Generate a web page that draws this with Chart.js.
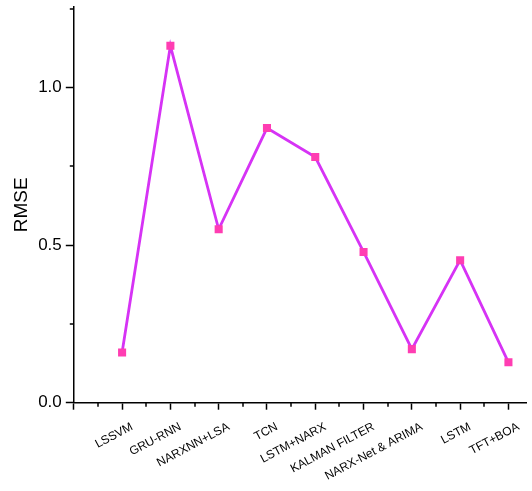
<!DOCTYPE html>
<html>
<head>
<meta charset="utf-8">
<script src="https://cdn.jsdelivr.net/npm/chart.js@4/dist/chart.umd.min.js"></script>
<style>
  html, body { margin: 0; padding: 0; background: #ffffff; }
  #wrap { width: 532px; height: 491px; position: relative; }
</style>
</head>
<body>
<div id="wrap"><canvas id="c"></canvas></div>
<script>
// Models compared and their RMSE
const models = ['LSSVM', 'GRU-RNN', 'NARXNN+LSA', 'TCN', 'LSTM+NARX', 'KALMAN FILTER', 'NARX-Net & ARIMA', 'LSTM', 'TFT+BOA'];
const rmse = [0.159, 1.132, 0.550, 0.871, 0.779, 0.478, 0.170, 0.452, 0.128];

// Axis ticks
const yMajorTicks = [0, 0.5, 1.0];
const yMinorTicks = [0.25, 0.75, 1.25];
const xMajorTicks = [0, 1, 2, 3, 4, 5, 6, 7, 8, 9];
const xMinorTicks = [0.5, 1.5, 2.5, 3.5, 4.5, 5.5, 6.5, 7.5, 8.5];

const FONT = '"Liberation Sans", Arial, sans-serif';

// short minor ticks on both axes
const minorTicks = {
  id: 'minorTicks',
  afterDraw(chart) {
    const { ctx, chartArea, scales } = chart;
    ctx.save();
    ctx.strokeStyle = '#000';
    ctx.lineWidth = 1.5;
    ctx.beginPath();
    yMinorTicks.forEach(v => {
      const py = Math.round(scales.y.getPixelForValue(v));
      ctx.moveTo(chartArea.left - 4, py);
      ctx.lineTo(chartArea.left, py);
    });
    xMinorTicks.forEach(v => {
      const px = Math.round(scales.x.getPixelForValue(v));
      ctx.moveTo(px, chartArea.bottom);
      ctx.lineTo(px, chartArea.bottom + 4);
    });
    ctx.stroke();
    ctx.restore();
  }
};

new Chart(document.getElementById('c'), {
  type: 'line',
  data: {
    datasets: [{
      label: 'RMSE',
      data: rmse.map((v, i) => ({ x: i + 1, y: v })),
      borderColor: '#d633f5',
      borderWidth: 2.8,
      pointStyle: 'rect',
      pointRadius: 5.7,
      pointBorderWidth: 0,
      pointBackgroundColor: '#ff3db2',
      pointBorderColor: '#ff3db2',
      tension: 0
    }]
  },
  options: {
    responsive: true,
    maintainAspectRatio: false,
    animation: false,
    layout: { padding: { top: 7, right: 0, bottom: 0, left: 0 } },
    plugins: {
      legend: { display: false },
      tooltip: { enabled: false }
    },
    scales: {
      x: {
        type: 'linear',
        min: 0,
        max: 9.37,
        afterBuildTicks: s => { s.ticks = xMajorTicks.map(v => ({ value: v })); },
        afterFit: s => { s.height = 88.3; s.paddingLeft = 0; s.paddingRight = 0; },
        border: { display: true, color: '#000', width: 1.5 },
        grid: { drawOnChartArea: false, drawTicks: true, tickLength: 7, tickColor: '#000', tickWidth: 1.5 },
        ticks: {
          autoSkip: false,
          maxRotation: 28,
          minRotation: 28,
          padding: 10,
          labelOffset: 10,
          color: '#000',
          font: { family: FONT, size: 12 },
          callback: v => (v >= 1 && v <= models.length ? models[v - 1] : '')
        }
      },
      y: {
        type: 'linear',
        min: 0,
        max: 1.255,
        afterBuildTicks: s => { s.ticks = yMajorTicks.map(v => ({ value: v })); },
        afterFit: s => { s.width = 73.8; s.paddingTop = 0; s.paddingBottom = 0; },
        border: { display: true, color: '#000', width: 1.5 },
        grid: { drawOnChartArea: false, drawTicks: true, tickLength: 8, tickColor: '#000', tickWidth: 1.5 },
        ticks: {
          padding: 4,
          color: '#000',
          font: { family: FONT, size: 17 },
          callback: v => Number(v).toFixed(1)
        },
        title: {
          display: true,
          text: 'RMSE',
          color: '#000',
          font: { family: FONT, size: 19 },
          padding: { top: 10, bottom: 0 }
        }
      }
    }
  },
  plugins: [minorTicks]
});
</script>
</body>
</html>
